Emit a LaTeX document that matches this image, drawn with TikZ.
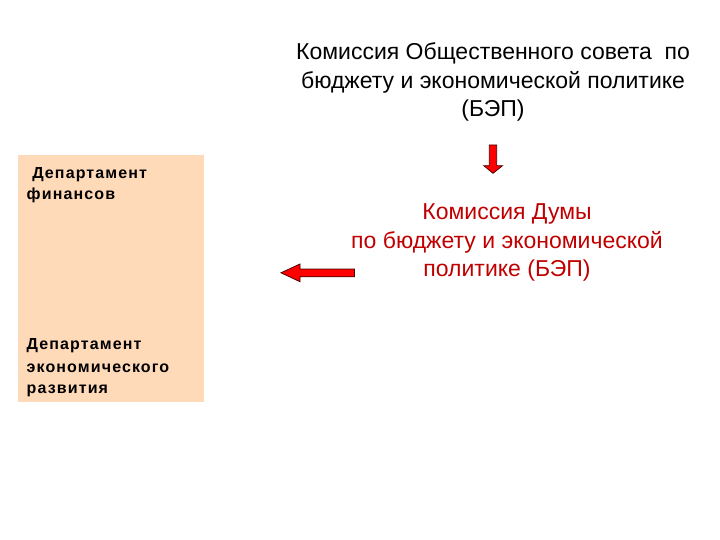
\documentclass[tikz,border=0pt]{standalone}
\usepackage{fontspec}
\setmainfont{Liberation Sans}
\newfontfamily\boxfont[LetterSpace=7]{Liberation Sans}
\definecolor{peach}{RGB}{255,218,185}
\definecolor{dred}{RGB}{192,0,0}
\definecolor{arrred}{RGB}{255,0,0}
\begin{document}
\begin{tikzpicture}[x=1pt,y=-1pt,
  bigtxt/.style={anchor=base,inner sep=0pt,font=\fontsize{23}{27}\selectfont},
  redtxt/.style={bigtxt,text=dred},
  boxtxt/.style={anchor=base west,inner sep=0pt,font=\boxfont\fontsize{16}{19}\selectfont\bfseries},
  fatarrow/.style={fill=arrred,draw=black!70!red,line width=0.8pt,line join=miter}]
\useasboundingbox (0,0) rectangle (720,540);
% department box
\fill[peach] (18,155) rectangle (204,402);
\node[boxtxt] (d1a) at (26.5,179) {\ Департамент};
\node[boxtxt] (d1b) at (26.5,199.3) {финансов};
\node[boxtxt] (d2a) at (26.5,349) {Департамент};
\node[boxtxt] (d2b) at (26.5,372.5) {экономического};
\node[boxtxt] (d2c) at (26.5,393.5) {развития};
% public council commission
\node[bigtxt] (c1) at (493,60) {Комиссия Общественного совета\ \ по};
\node[bigtxt] (c2) at (493,88.5) {бюджету и экономической политике};
\node[bigtxt] (c3) at (493,117) {(БЭП)};
% duma commission
\node[redtxt] (r1) at (507,219.5) {Комиссия Думы};
\node[redtxt] (r2) at (507,248) {по бюджету и экономической};
\node[redtxt] (r3) at (507,276.5) {политике (БЭП)};
% down arrow
\draw[fatarrow] (489.3,145) -- (496.7,145) -- (496.7,165.7) -- (502.5,165.7) -- (493,173.3)
  -- (483.8,165.7) -- (489.3,165.7) -- cycle;
% left arrow
\draw[fatarrow] (354.5,269) -- (354.5,276.8) -- (300,276.8) -- (300,281.7) -- (281,272.8)
  -- (300,264) -- (300,269) -- cycle;
\end{tikzpicture}
\end{document}
